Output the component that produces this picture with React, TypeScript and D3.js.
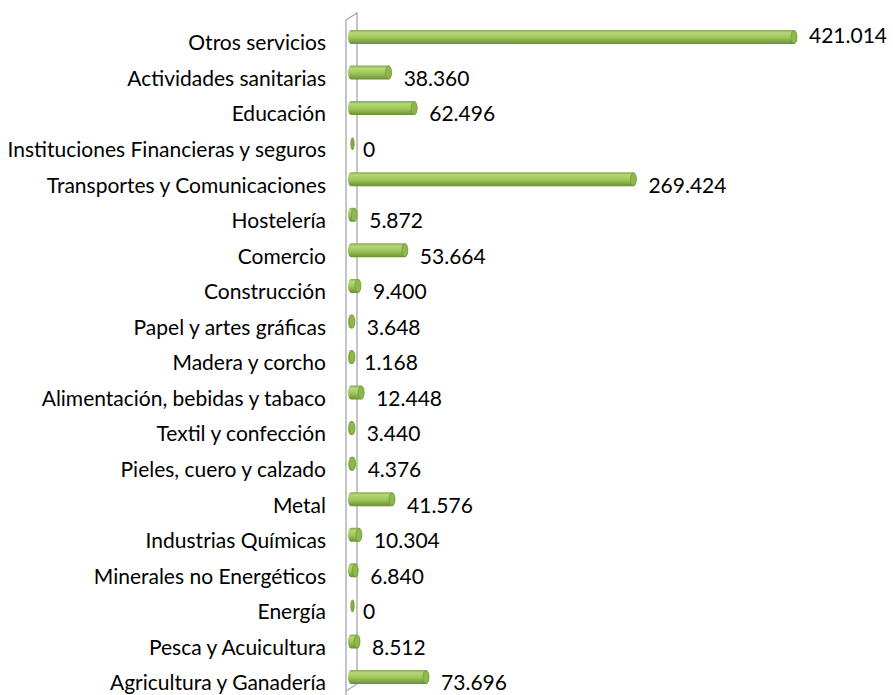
import { useEffect, useRef } from "react";
import * as d3 from "d3";

// categories listed top to bottom
const categories = [
  "Otros servicios",
  "Actividades sanitarias",
  "Educación",
  "Instituciones Financieras y seguros",
  "Transportes y Comunicaciones",
  "Hostelería",
  "Comercio",
  "Construcción",
  "Papel y artes gráficas",
  "Madera y corcho",
  "Alimentación, bebidas y tabaco",
  "Textil y confección",
  "Pieles, cuero y calzado",
  "Metal",
  "Industrias Químicas",
  "Minerales no Energéticos",
  "Energía",
  "Pesca y Acuicultura",
  "Agricultura y Ganadería",
];

const values = [
  421.014, 38.36, 62.496, 0, 269.424, 5.872, 53.664, 9.4, 3.648, 1.168, 12.448,
  3.44, 4.376, 41.576, 10.304, 6.84, 0, 8.512, 73.696,
];

const valueLabels = [
  "421.014", "38.360", "62.496", "0", "269.424", "5.872", "53.664", "9.400",
  "3.648", "1.168", "12.448", "3.440", "4.376", "41.576", "10.304", "6.840",
  "0", "8.512", "73.696",
];

const width = 893;
const height = 695;
const font = "Lato, sans-serif";

export default function App() {
  const svgRef = useRef<SVGSVGElement>(null);

  useEffect(() => {
    const svg = d3.select(svgRef.current);
    svg.selectAll("*").remove();

    const x = d3.scaleLinear().domain([0, 421.014]).range([351, 797]);
    const y = d3.scalePoint<string>().domain(categories).range([43, 683]);

    const defs = svg.append("defs");
    const grad = defs
      .append("linearGradient")
      .attr("id", "cyl")
      .attr("x1", 0)
      .attr("y1", 0)
      .attr("x2", 0)
      .attr("y2", 1);
    grad.append("stop").attr("offset", "0%").attr("stop-color", "#86a94c");
    grad.append("stop").attr("offset", "20%").attr("stop-color", "#b4d877");
    grad.append("stop").attr("offset", "55%").attr("stop-color", "#9ec65a");
    grad.append("stop").attr("offset", "100%").attr("stop-color", "#6b8f35");

    // wall
    const wall = svg.append("g").attr("stroke", "#a6a6a6").attr("fill", "none").attr("stroke-width", 1.3);
    wall.append("path").attr("d", "M346,20 L357,13 L357,684 L346,691");
    wall.append("path").attr("d", "M346,20 L346,695");

    // bars
    const bh = 14;
    const rx = 3;
    const bars = svg.append("g");
    categories.forEach((c, i) => {
      const cy = (y(c) ?? 0) - 6;
      const x0 = x(0);
      const x1 = x(values[i]);
      if (values[i] === 0) {
        bars
          .append("ellipse")
          .attr("cx", x0 + 1.5)
          .attr("cy", cy)
          .attr("rx", 2.2)
          .attr("ry", 6.5)
          .attr("fill", "#82a845");
        return;
      }
      const end = Math.max(x1, x0 + 4);
      bars
        .append("path")
        .attr(
          "d",
          `M${x0},${cy - bh / 2} H${end - rx} A${rx},${bh / 2} 0 0 1 ${end - rx},${cy + bh / 2} H${x0} A${rx},${bh / 2} 0 0 1 ${x0},${cy - bh / 2} Z`
        )
        .attr("fill", "url(#cyl)");
      bars
        .append("ellipse")
        .attr("cx", end - rx)
        .attr("cy", cy)
        .attr("rx", rx)
        .attr("ry", bh / 2 - 0.5)
        .attr("fill", "#8fb84b")
        .attr("stroke", "#6b8f35")
        .attr("stroke-width", 0.6);
    });

    // category labels
    svg
      .append("g")
      .selectAll("text")
      .data(categories)
      .join("text")
      .attr("x", 326)
      .attr("y", (d) => y(d) ?? 0)
      .attr("dy", "0.35em")
      .attr("text-anchor", "end")
      .style("font-family", font)
      .style("font-size", "21px")
      .attr("fill", "#000")
      .text((d) => d);

    // value labels
    svg
      .append("g")
      .selectAll("text")
      .data(categories)
      .join("text")
      .attr("x", (_d, i) => x(values[i]) + 12)
      .attr("y", (d, i) => (y(d) ?? 0) - (i === 0 ? 7 : 0))
      .attr("dy", "0.35em")
      .style("font-family", font)
      .style("font-size", "21px")
      .attr("fill", "#000")
      .text((_d, i) => valueLabels[i]);
  }, []);

  return (
    <svg
      ref={svgRef}
      width={width}
      height={height}
      style={{ position: "absolute", left: 0, top: 0, background: "#fff" }}
    />
  );
}
